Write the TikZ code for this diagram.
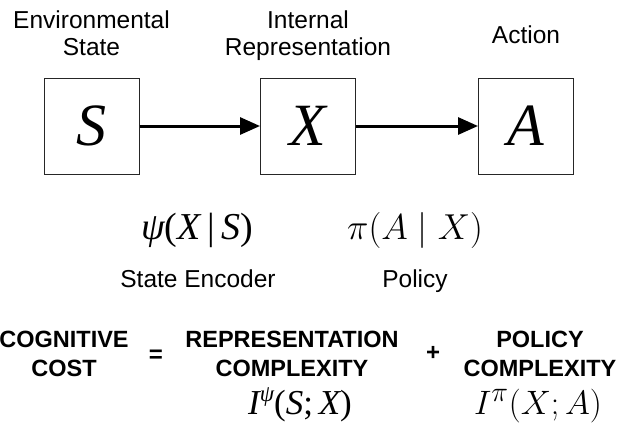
\documentclass[tikz,border=0pt]{standalone}
\usepackage[no-math]{fontspec}
\setmainfont{Liberation Sans}
\newfontfamily\timesfont{Liberation Serif}
\usetikzlibrary{arrows.meta}

\tikzset{
  varbox/.style={draw=black!85, line width=1pt, minimum width=95pt, minimum height=96pt,
    inner sep=0pt, font=\timesfont\itshape\fontsize{60}{60}\selectfont},
  headlabel/.style={align=center, anchor=base, font=\fontsize{24.5}{27}\selectfont},
  funclabel/.style={anchor=base, font=\fontsize{24.5}{27}\selectfont},
  mathlabel/.style={anchor=base, font=\fontsize{38}{38}\selectfont},
  cmlabel/.style={anchor=base, font=\Huge},
  costlabel/.style={align=center, anchor=base, font=\bfseries\fontsize{23.5}{29}\selectfont},
  opsign/.style={font=\bfseries\fontsize{24}{24}\selectfont},
  flow/.style={line width=3pt, -{Triangle[length=20pt,width=17pt]}},
}
\newcommand{\bigmath}[1]{\scalebox{1.45}{$#1$}}

\begin{document}
\begin{tikzpicture}[x=1pt,y=-1pt]
  \useasboundingbox (0,0) rectangle (628,432);
  % the three variables
  \node[varbox] (S) at (91.5,126) {S};
  \node[varbox] (X) at (308,126) {X};
  \node[varbox] (A) at (526,126) {A};
  \draw[flow] (S) -- (X);
  \draw[flow] (X) -- (A);
  % headings above the boxes
  \node[headlabel] (envstate) at (91.5,55) {Environmental\\State};
  \node[headlabel] (internal) at (308,55) {Internal\\Representation};
  \node[headlabel] (action) at (526,43) {Action};
  % encoder and policy
  \node[mathlabel] (encoder) at (197,239)
    {\timesfont\itshape ψ\upshape(\itshape X\,\upshape|\,\itshape S\upshape)};
  \node[cmlabel] (policy) at (415,239) {\bigmath{\pi(A\mid X)}};
  \node[funclabel] (encname) at (198,287) {State Encoder};
  \node[funclabel] (polname) at (415,287) {Policy};
  % cost decomposition
  \node[costlabel] (cogcost) at (64,376) {COGNITIVE\\COST};
  \node[opsign] (equals) at (156,356) {=};
  \node[costlabel] (repcomp) at (292,376) {REPRESENTATION\\COMPLEXITY};
  \node[opsign] (plus) at (433,353) {+};
  \node[costlabel] (polcomp) at (540,376) {POLICY\\COMPLEXITY};
  \node[mathlabel, font=\fontsize{35}{35}\selectfont] (repinfo) at (300,414)
    {\timesfont\itshape I\raisebox{0.75ex}{\fontsize{23}{23}\selectfont ψ}\upshape(\itshape S\upshape;\,\itshape X\upshape)};
  \node[cmlabel] (polinfo) at (538,414) {\scalebox{1.36}{$I^{\pi}(X;A)$}};
\end{tikzpicture}
\end{document}
